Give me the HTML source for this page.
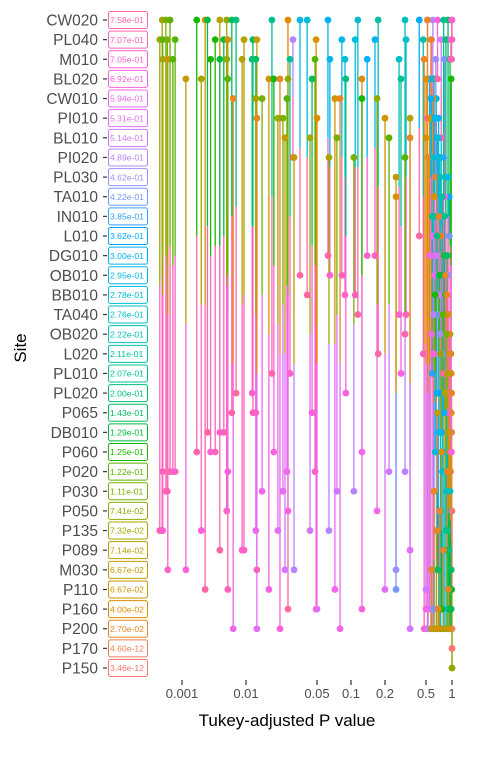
<!DOCTYPE html>
<html><head><meta charset="utf-8">
<style>
html,body{margin:0;padding:0;background:#fff;}
body{width:480px;height:768px;overflow:hidden;font-family:"Liberation Sans",sans-serif;}
</style></head>
<body>
<svg id="chart" width="480" height="768" viewBox="0 0 480 768" xmlns="http://www.w3.org/2000/svg"></svg>
<script>
const sites = ["CW020","PL040","M010","BL020","CW010","PI010","BL010","PI020","PL030","TA010","IN010","L010","DG010","OB010","BB010","TA040","OB020","L020","PL010","PL020","P065","DB010","P060","P020","P030","P050","P135","P089","M030","P110","P160","P200","P170","P150"];
const siteValues = ["7.58e-01","7.07e-01","7.05e-01","6.92e-01","5.94e-01","5.31e-01","5.14e-01","4.89e-01","4.62e-01","4.22e-01","3.85e-01","3.62e-01","3.00e-01","2.95e-01","2.78e-01","2.76e-01","2.22e-01","2.11e-01","2.07e-01","2.00e-01","1.43e-01","1.29e-01","1.25e-01","1.22e-01","1.11e-01","7.41e-02","7.32e-02","7.14e-02","6.67e-02","6.67e-02","4.00e-02","2.70e-02","4.60e-12","3.46e-12"];
const tickValues = [0.001,0.01,0.05,0.1,0.2,0.5,1];
const tickLabels = ["0.001","0.01","0.05","0.1","0.2","0.5","1"];
// pair comparisons: site A index, site B index, adjusted p
const pairA = [0,0,0,0,0,0,0,0,0,0,0,0,0,0,0,0,0,0,0,
 1,1,1,1,1,1,1,1,1,1,1,1,1,1,1,1,1,
 2,2,2,2,2,2,2,2,2,2,2,2,2,2,2,
 3,3,3,3,3,3,3,3,3,3,3,
 4,4,4,4,4,4,4,4,
 5,5,5,5,5,5, 6,6,6,6,6, 7,7,7,7, 8,9,
 3,3,4,4,5,5,6,6,7,7,8,8,9,9,10,10,11,12,13,14,15,16,17,18,19,20,21,22,23,
 0,0,0,1,1,2,2,0,1,2,3,4,5,6,7,8,9,10,11,12,13,14,15,16,17,18,19,20,21,22,0,0,1,2,3,0,0,1,31,32,33,
 4,5,6,7,8,9,10,11,12,13,14,15,16,17,18,19,20,21,22,23,24,25,26,27,28,29,30];
const pairB = [26,24,23,22,29,21,27,25,20,19,18,30,13,14,12,15,17,16,11,
 26,23,24,23,22,21,29,27,20,28,7,30,13,14,12,15,17,
 26,28,23,22,21,25,27,19,20,18,23,13,14,12,15,
 28,26,23,29,22,31,25,20,19,30,18,
 31,26,24,23,29,31,22,25,
 31,26,24,30,29,27, 28,26,24,23,31, 28,26,24,23, 28,29,
 17,12,16,14,13,11,15,12,10,14,16,13,11,17,18,15,19,20,21,22,23,24,25,26,27,28,29,30,31,
 5,7,3,4,6,8,9,31,31,31,30,31,30,29,31,31,30,31,31,31,31,31,30,31,31,30,31,31,30,31,20,18,19,21,22,1,2,2,32,33,25,
 12,13,14,15,16,17,18,19,20,21,22,23,24,25,26,27,28,29,30,31,31,31,31,31,31,31,31];
const pairP = [4.9e-4,5.6e-4,6.5e-4,1.7e-3,2.3e-3,2.5e-3,3.9e-3,5.0e-3,6.0e-3,7.0e-3,0.018,0.0259,0.034,0.040,0.0625,0.115,0.174,0.313,0.43,
 4.5e-4,5.0e-4,5.9e-4,7.8e-4,3.3e-3,4.5e-3,5.2e-3,9.3e-3,0.0117,0.0128,0.029,0.049,0.083,0.109,0.163,0.32,0.47,
 5.0e-4,6.0e-4,7.2e-4,2.8e-3,3.9e-3,5.0e-3,8.7e-3,0.0115,0.0125,0.0271,0.0478,0.065,0.0885,0.139,0.274,
 1.15e-3,2.0e-3,5.2e-3,0.0168,0.0188,0.0216,0.0259,0.0447,0.09,0.125,0.286,
 6.3e-3,0.0125,0.0144,0.0253,0.072,0.080,0.125,0.17,
 0.0128,0.0206,0.0231,0.05,0.2,0.35, 0.0242,0.0427,0.075,0.219,0.35, 0.0297,0.0638,0.106,0.313, 0.256,0.256,
 0.62,0.55,0.58,0.66,0.70,0.60,0.75,0.68,0.80,0.72,0.85,0.90,0.93,0.78,0.82,0.64,0.70,0.88,0.76,0.84,0.90,0.95,0.97,0.86,0.92,0.98,0.99,0.94,0.96,
 0.52,0.60,0.68,0.58,0.75,0.65,0.82,0.52,0.57,0.48,0.50,0.60,0.55,0.50,0.53,0.66,0.62,0.70,0.74,0.79,0.83,0.87,0.90,0.93,0.96,0.98,0.99,0.97,0.95,0.985,0.90,0.80,0.85,0.95,0.98,1.0,0.99,0.97,1.0,1.0,1.0,
 0.57,0.63,0.69,0.61,0.73,0.77,0.59,0.67,0.81,0.71,0.64,0.78,0.86,0.74,0.89,0.83,0.68,0.92,0.76,0.88,0.62,0.72,0.66,0.80,0.58,0.91,0.69];

const NS="http://www.w3.org/2000/svg";
const svg=document.getElementById('chart');
function el(tag,attrs,parent){const e=document.createElementNS(NS,tag);for(const k in attrs)e.setAttribute(k,attrs[k]);(parent||svg).appendChild(e);return e;}
const knotT=[0,0.30103,0.69897,1,1.30103,2,3];
const knotX=[452,426,385,351,317,246,182];
function xScale(p){const t=-Math.log10(Math.max(p,1e-12));
 for(let i=0;i<knotT.length-1;i++){if(t<=knotT[i+1])return knotX[i]+(t-knotT[i])/(knotT[i+1]-knotT[i])*(knotX[i+1]-knotX[i]);}
 return 182-(t-3)*64;}
function yScale(i){return 20+i*(648/33);}
// ggplot-style hcl (polar Luv)
function hcl(h){const L=65,C=100;const hr=h*Math.PI/180;const u=C*Math.cos(hr),v=C*Math.sin(hr);
 const Y=Math.pow((L+16)/116,3);const un=0.19784,vn=0.46834;
 const up=u/(13*L)+un,vp=v/(13*L)+vn;
 const X=Y*9*up/(4*vp),Z=Y*(12-3*up-20*vp)/(4*vp);
 let r=3.2406*X-1.5372*Y-0.4986*Z,g=-0.9689*X+1.8758*Y+0.0415*Z,bb=0.0557*X-0.2040*Y+1.0570*Z;
 const gm=v=>{v=v<=0.0031308?12.92*v:1.055*Math.pow(v,1/2.4)-0.055;return Math.round(Math.min(1,Math.max(0,v))*255);};
 return `rgb(${gm(r)},${gm(g)},${gm(bb)})`;}
function siteColor(i){return hcl(15+(33-i)*(335/33));}

sites.forEach((s,i)=>{const y=yScale(i);
 const t=el('text',{x:98,y:y+5.5,'text-anchor':'end','font-size':15.5,fill:'#4d4d4d'});t.textContent=s;
 
 
 const tk=el('line',{x1:103,x2:107,y1:y,y2:y,stroke:'#333','stroke-width':1.2});
 
 
 const c=siteColor(i);
 const r=el('rect',{x:108.5,y:y-8.5,width:39,height:17,rx:2,fill:'#fff',stroke:c,'stroke-width':1});
 
 
 const v=el('text',{x:110,y:y+3.2,'font-size':8.6,fill:c});v.textContent=siteValues[i];
 
 
});
const gL=el('g',{});
const gP=el('g',{});
pairA.forEach((a,k)=>{const b=pairB[k];const x=xScale(pairP[k]);const ya=yScale(a),yb=yScale(b),ym=(ya+yb)/2;
 const l1=el('line',{x1:x,x2:x,y1:ya,y2:ym,stroke:siteColor(b),'stroke-width':1.3},gL);
 
 
 const l2=el('line',{x1:x,x2:x,y1:yb,y2:ym,stroke:siteColor(a),'stroke-width':1.3},gL);
 
 
 const c1=el('circle',{cx:x,cy:ya,r:3.4,fill:siteColor(b)},gP);
 
 
 const c2=el('circle',{cx:x,cy:yb,r:3.4,fill:siteColor(a)},gP);
 
 
});
tickValues.forEach((p,i)=>{const x=xScale(p);
 const tk=el('line',{x1:x,x2:x,y1:680,y2:685,stroke:'#333','stroke-width':1.2});
 
 
 const t=el('text',{x:x,y:698,'text-anchor':'middle','font-size':13,fill:'#4d4d4d'});t.textContent=tickLabels[i];
 
 
});
const xt=el('text',{x:287,y:726,'text-anchor':'middle','font-size':17,fill:'#000'});xt.textContent='Tukey-adjusted P value';


const yt=el('text',{x:26,y:348,'text-anchor':'middle','font-size':17,fill:'#000',transform:'rotate(-90 26 348)'});yt.textContent='Site';


</script>
</body></html>
